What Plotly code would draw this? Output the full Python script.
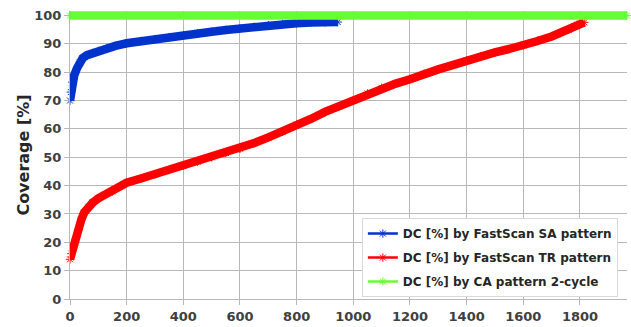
import plotly.graph_objects as go

# Blue: DC [%] by FastScan SA pattern
sa_x = [0, 3, 8, 15, 25, 35, 45, 60, 80, 100, 130, 160, 200, 250, 300, 350, 400,
        450, 500, 550, 600, 650, 700, 750, 800, 850, 900, 945]
sa_y = [70, 73, 76.5, 79, 81.5, 83.5, 85, 86, 86.8, 87.5, 88.5, 89.3, 90.2, 91,
        91.7, 92.4, 93.0, 93.7, 94.3, 94.9, 95.5, 96.0, 96.6, 97.0, 97.3, 97.5, 97.6, 97.7]

# Red: DC [%] by FastScan TR pattern
tr_x = [0, 5, 12, 20, 30, 40, 50, 65, 80, 100, 125, 150, 175, 200, 250, 300, 350,
        400, 450, 500, 550, 600, 650, 700, 750, 800, 850, 900, 950, 1000, 1050,
        1100, 1150, 1200, 1250, 1300, 1350, 1400, 1450, 1500, 1550, 1600, 1650,
        1700, 1730, 1760, 1780, 1800, 1815]
tr_y = [14, 16, 18.5, 21, 24.5, 28, 30.5, 32.5, 34, 35.5, 37, 38, 39.5, 41, 42.5,
        44, 45.5, 47, 48.5, 50, 51.5, 53, 55, 57, 59, 61.5, 63.5, 66, 68, 70, 72.5,
        74.5, 76, 77.5, 79.5, 81, 82.5, 84.2, 85.6, 87, 88.2, 89.4, 91, 92.6, 93.8,
        95, 96.3, 97.2, 97.6]

# Green: DC [%] by CA pattern 2-cycle
ca_x = [0, 400, 800, 1200, 1600, 1966]
ca_y = [100, 100, 100, 100, 100, 100]

x_ticks = [0, 200, 400, 600, 800, 1000, 1200, 1400, 1600, 1800]
y_ticks = [0, 10, 20, 30, 40, 50, 60, 70, 80, 90, 100]

series = [
    ("DC [%] by FastScan SA pattern", sa_x, sa_y, "#0033cc"),
    ("DC [%] by FastScan TR pattern", tr_x, tr_y, "#ff0000"),
    ("DC [%] by CA pattern 2-cycle", ca_x, ca_y, "#66ff33"),
]

fig = go.Figure()
for i, (name, xs, ys, col) in enumerate(series):
    # thick band formed by the densely packed markers
    fig.add_trace(go.Scatter(
        x=xs, y=ys, name=name, mode="lines",
        line=dict(color=col, width=8.5),
        cliponaxis=False, showlegend=False, hoverinfo="skip",
        legendgroup=f"g{i}",
    ))
    fig.add_trace(go.Scatter(
        x=xs, y=ys, name=name, mode="lines+markers",
        line=dict(color=col, width=2.5),
        marker=dict(symbol="asterisk-open", size=7, color=col,
                    line=dict(color=col, width=1)),
        cliponaxis=False, legendgroup=f"g{i}",
    ))

grid = "#b8b8b8"
font = "DejaVu Sans"
fig.update_layout(
    width=631, height=327,
    margin=dict(l=70, r=4, t=11, b=28),
    paper_bgcolor="white", plot_bgcolor="white",
    font=dict(family=font, color="#404040"),
    showlegend=True,
    legend=dict(
        x=0.524, y=0.281, xanchor="left", yanchor="top",
        bgcolor="white", bordercolor="#d9d9d9", borderwidth=1,
        font=dict(family=font, size=12, color="#262626", weight="bold"),
        tracegroupgap=5, traceorder="grouped",
        itemwidth=30,
    ),
    xaxis=dict(
        range=[0, 1966], tickvals=x_ticks, ticktext=[str(v) for v in x_ticks],
        showgrid=True, gridcolor=grid, gridwidth=1,
        zeroline=False, showline=True, linecolor=grid, linewidth=1,
        ticks="outside", ticklen=5, tickcolor=grid,
        tickfont=dict(family=font, size=13, color="#404040", weight="bold"),
    ),
    yaxis=dict(
        range=[0, 101.6], tickvals=y_ticks, ticktext=[str(v) for v in y_ticks],
        showgrid=True, gridcolor=grid, gridwidth=1,
        zeroline=False, showline=True, linecolor=grid, linewidth=1,
        ticks="outside", ticklen=5, tickcolor=grid,
        tickfont=dict(family=font, size=13, color="#404040", weight="bold"),
        title=dict(text="Coverage [%]", standoff=0,
                   font=dict(family=font, size=16, color="#262626", weight="bold")),
    ),
)

fig.write_html("out.html", config={"displayModeBar": False},
               post_script="document.body.style.margin='0';")
